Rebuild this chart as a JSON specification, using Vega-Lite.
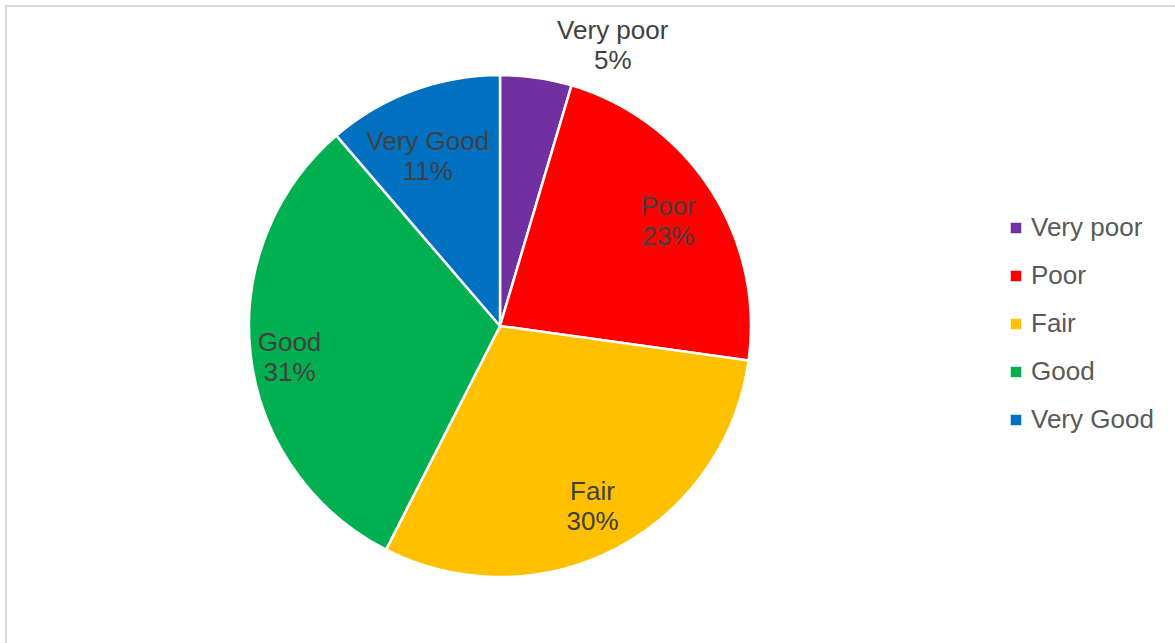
{
  "$schema": "https://vega.github.io/schema/vega-lite/v6.json",
  "width": 1175,
  "height": 640,
  "autosize": "none",
  "padding": {"left": 6, "top": 6, "right": 0, "bottom": 0},
  "background": "white",
  "view": {"stroke": "#d9d9d9", "strokeWidth": 2, "fill": "white"},
  "config": {
    "view": {"stroke": "#d9d9d9", "strokeWidth": 2},
    "font": "Liberation Sans"
  },
  "data": {
    "values": [
      {"category": "Very poor", "value": 4.6, "rank": 1},
      {"category": "Poor", "value": 22.6, "rank": 2},
      {"category": "Fair", "value": 30.3, "rank": 3},
      {"category": "Good", "value": 31.2, "rank": 4},
      {"category": "Very Good", "value": 11.3, "rank": 5}
    ]
  },
  "transform": [
    {"joinaggregate": [{"op": "sum", "field": "value", "as": "total"}]},
    {"calculate": "datum.category + '\\n' + format(datum.value / datum.total, '.0%')", "as": "label"}
  ],
  "encoding": {
    "theta": {"field": "value", "type": "quantitative", "stack": true},
    "order": {"field": "rank", "type": "quantitative"}
  },
  "layer": [
    {
      "mark": {"type": "arc", "outerRadius": 251, "stroke": "white", "strokeWidth": 2.5, "x": 494, "y": 320},
      "encoding": {
        "color": {
          "field": "category",
          "type": "nominal",
          "sort": ["Very poor", "Poor", "Fair", "Good", "Very Good"],
          "scale": {
            "domain": ["Very poor", "Poor", "Fair", "Good", "Very Good"],
            "range": ["#7030A0", "#FF0000", "#FFC000", "#00B050", "#0070C0"]
          },
          "legend": {
            "title": null,
            "orient": "none",
            "legendX": 997,
            "legendY": 209,
            "symbolType": "square",
            "symbolSize": 110,
            "symbolStrokeWidth": 0,
            "labelFontSize": 26,
            "labelColor": "#595959",
            "labelFont": "Liberation Sans",
            "rowPadding": 22,
            "labelOffset": 2,
            "padding": 0
          }
        }
      }
    },
    {
      "mark": {"type": "text", "radius": 200, "x": 494, "y": 320, "dy": -11, "fontSize": 26, "color": "#404040", "lineBreak": "\n", "align": "center", "baseline": "middle", "lineHeight": 30},
      "encoding": {
        "text": {"condition": {"test": "datum.category === 'Poor' || datum.category === 'Fair'", "field": "label"}, "value": ""}
      }
    },
    {
      "mark": {"type": "text", "radius": 212, "x": 494, "y": 320, "dy": -8, "fontSize": 26, "color": "#404040", "lineBreak": "\n", "align": "center", "baseline": "middle", "lineHeight": 30},
      "encoding": {
        "text": {"condition": {"test": "datum.category === 'Good'", "field": "label"}, "value": ""}
      }
    },
    {
      "mark": {"type": "text", "radius": 185, "x": 494, "y": 320, "dx": -8, "dy": -11, "fontSize": 26, "color": "#404040", "lineBreak": "\n", "align": "center", "baseline": "middle", "lineHeight": 30},
      "encoding": {
        "text": {"condition": {"test": "datum.category === 'Very Good'", "field": "label"}, "value": ""}
      }
    },
    {
      "mark": {"type": "text", "radius": 290, "x": 494, "y": 320, "dx": 71, "dy": -8, "fontSize": 26, "color": "#404040", "lineBreak": "\n", "align": "center", "baseline": "middle", "lineHeight": 30},
      "encoding": {
        "text": {"condition": {"test": "datum.category === 'Very poor'", "field": "label"}, "value": ""}
      }
    }
  ]
}
